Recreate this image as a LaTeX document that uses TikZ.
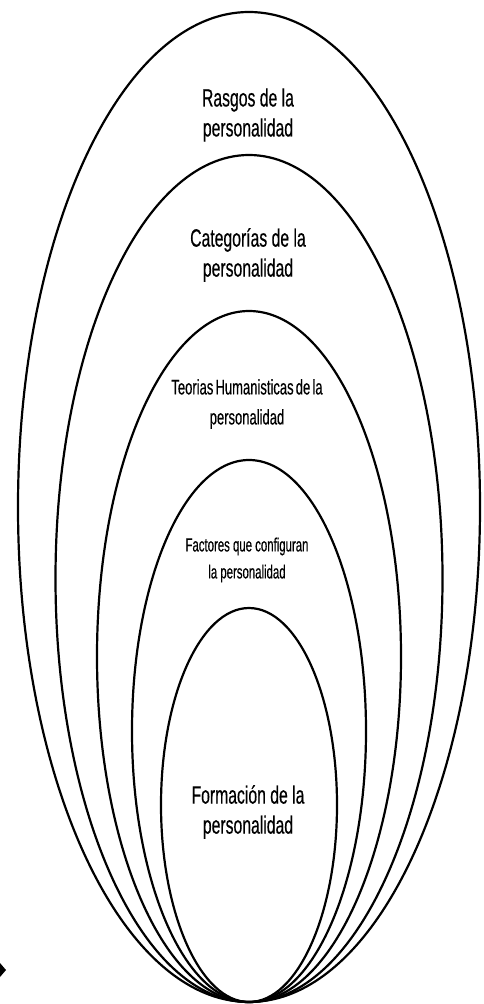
\documentclass[tikz,border=0pt]{standalone}
\usepackage{fontspec}
\setmainfont{Liberation Sans}
\newfontfamily\bigf{Liberation Sans}[FakeStretch=0.63,FakeBold=0.4]
\newfontfamily\teof{Liberation Sans}[FakeStretch=0.62,FakeBold=0.4,WordSpace=0.6]
\newfontfamily\facf{Liberation Sans}[FakeStretch=0.6,FakeBold=0.4]
\begin{document}
\begin{tikzpicture}[x=1pt,y=-1pt,
  ring/.style={draw=black,line width=2.2pt},
  lbl/.style={align=center,font=\bigf\fontsize{25}{30}\selectfont,inner sep=0pt},
  lblteo/.style={align=center,font=\teof\fontsize{21}{30}\selectfont,inner sep=0pt},
  lblfac/.style={align=center,font=\facf\fontsize{19}{27}\selectfont,inner sep=0pt}]
\useasboundingbox (0,0) rectangle (483,1004);
\draw[ring] (249,507) ellipse [x radius=231,y radius=495];
\draw[ring] (249,578.5) ellipse [x radius=193.5,y radius=423.5];
\draw[ring] (249,656.5) ellipse [x radius=152,y radius=345.5];
\draw[ring] (249,731) ellipse [x radius=117,y radius=271];
\draw[ring] (249,805) ellipse [x radius=88,y radius=197];
\node[lbl] (t1) at (248,115) {Rasgos de la\\personalidad};
\node[lbl] (t2) at (248,255) {Categorías de la\\personalidad};
\node[lblteo] (t3) at (247,404) {Teorias Humanisticas de la\\personalidad};
\node[lblfac] (t4) at (247,560) {Factores que configuran\\la personalidad};
\node[lbl] (t5) at (248,812) {Formación de la\\personalidad};
\fill[black] (0,963) -- (6,970) -- (0,977) -- cycle;
\end{tikzpicture}
\end{document}
